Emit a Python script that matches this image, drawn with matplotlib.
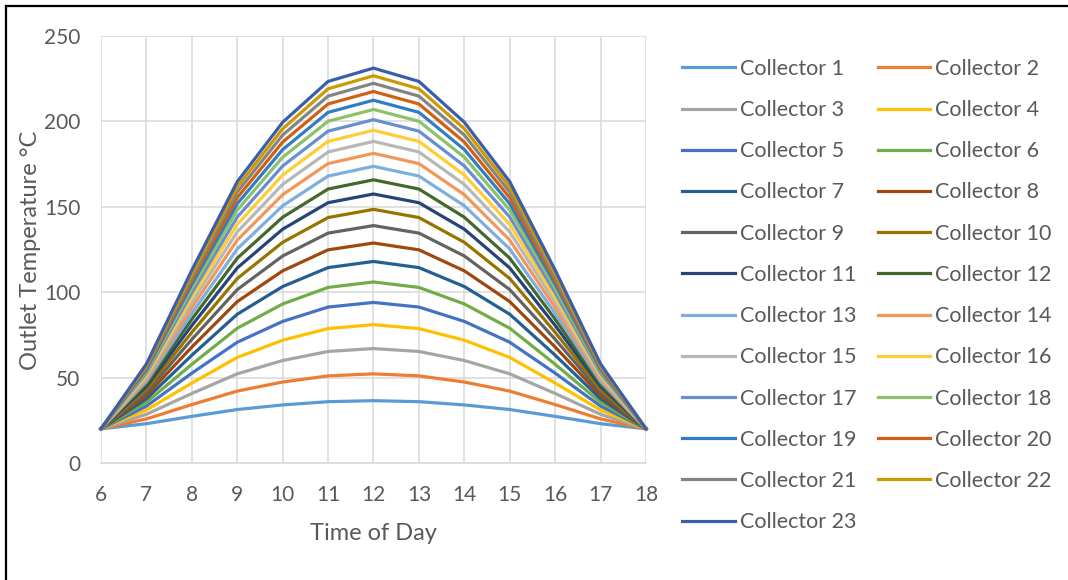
import matplotlib
matplotlib.use("Agg")
import matplotlib.pyplot as plt
from matplotlib.lines import Line2D

plt.rcParams['font.family'] = ['Lato', 'DejaVu Sans']

# Time of day (hours)
hours = [6, 7, 8, 9, 10, 11, 12, 13, 14, 15, 16, 17, 18]

# Outlet temperature (deg C), one list per collector
c1 = [20, 23.0, 27.3, 31.3, 34.0, 35.9, 36.5, 35.9, 34.0, 31.3, 27.3, 23.0, 20]
c2 = [20, 25.8, 34.2, 42.1, 47.4, 51.0, 52.2, 51.0, 47.4, 42.1, 34.2, 25.8, 20]
c3 = [20, 28.5, 40.7, 52.2, 60.0, 65.3, 67.0, 65.3, 60.0, 52.2, 40.7, 28.5, 20]
c4 = [20, 31.0, 46.8, 61.8, 71.9, 78.7, 81.0, 78.7, 71.9, 61.8, 46.8, 31.0, 20]
c5 = [20, 33.3, 52.6, 70.7, 82.9, 91.3, 94.0, 91.3, 82.9, 70.7, 52.6, 33.3, 20]
c6 = [20, 35.5, 57.8, 78.9, 93.1, 102.8, 106.0, 102.8, 93.1, 78.9, 57.8, 35.5, 20]
c7 = [20, 37.6, 63.1, 87.1, 103.3, 114.4, 118.0, 114.4, 103.3, 87.1, 63.1, 37.6, 20]
c8 = [20, 39.6, 67.9, 94.5, 112.5, 124.8, 128.8, 124.8, 112.5, 94.5, 67.9, 39.6, 20]
c9 = [20, 41.4, 72.4, 101.5, 121.2, 134.6, 139.0, 134.6, 121.2, 101.5, 72.4, 41.4, 20]
c10 = [20, 43.1, 76.5, 108.0, 129.2, 143.7, 148.5, 143.7, 129.2, 108.0, 76.5, 43.1, 20]
c11 = [20, 44.8, 80.5, 114.2, 136.9, 152.4, 157.5, 152.4, 136.9, 114.2, 80.5, 44.8, 20]
c12 = [20, 46.2, 84.2, 119.9, 143.9, 160.4, 165.8, 160.4, 143.9, 119.9, 84.2, 46.2, 20]
c13 = [20, 47.7, 87.6, 125.3, 150.6, 168.0, 173.7, 168.0, 150.6, 125.3, 87.6, 47.7, 20]
c14 = [20, 49.0, 91.0, 130.5, 157.1, 175.3, 181.3, 175.3, 157.1, 130.5, 91.0, 49.0, 20]
c15 = [20, 50.3, 94.1, 135.3, 163.1, 182.1, 188.3, 182.1, 163.1, 135.3, 94.1, 50.3, 20]
c16 = [20, 51.5, 96.9, 139.7, 168.6, 188.3, 194.8, 188.3, 168.6, 139.7, 96.9, 51.5, 20]
c17 = [20, 52.6, 99.6, 144.0, 173.9, 194.3, 201.0, 194.3, 173.9, 144.0, 99.6, 52.6, 20]
c18 = [20, 53.7, 102.3, 148.1, 179.0, 200.1, 207.0, 200.1, 179.0, 148.1, 102.3, 53.7, 20]
c19 = [20, 54.6, 104.7, 151.8, 183.5, 205.3, 212.4, 205.3, 183.5, 151.8, 104.7, 54.6, 20]
c20 = [20, 55.6, 106.9, 155.3, 187.9, 210.2, 217.5, 210.2, 187.9, 155.3, 106.9, 55.6, 20]
c21 = [20, 56.4, 109.0, 158.6, 192.0, 214.8, 222.3, 214.8, 192.0, 158.6, 109.0, 56.4, 20]
c22 = [20, 57.2, 110.9, 161.6, 195.7, 219.1, 226.7, 219.1, 195.7, 161.6, 110.9, 57.2, 20]
c23 = [20, 58.0, 112.9, 164.7, 199.5, 223.4, 231.2, 223.4, 199.5, 164.7, 112.9, 58.0, 20]

series = [c1, c2, c3, c4, c5, c6, c7, c8, c9, c10, c11, c12,
          c13, c14, c15, c16, c17, c18, c19, c20, c21, c22, c23]
names = ['Collector %d' % (i + 1) for i in range(len(series))]

# Office palette plus its darker / lighter shades, as Excel cycles them
colors = ['#5B9BD5', '#ED7D31', '#A5A5A5', '#FFC000', '#4472C4', '#70AD47',
          '#255E91', '#9E480E', '#636363', '#997300', '#264478', '#43682B',
          '#7CAFDD', '#F1975A', '#B7B7B7', '#FFCD33', '#698ED0', '#8CC168',
          '#327DC2', '#D26012', '#848484', '#CC9A00', '#3B5EA8']

txt = '#595959'
fs = 15

fig = plt.figure(figsize=(10.68, 5.8), dpi=100)
ax = fig.add_axes([101 / 1068, 1 - 463 / 580, 545 / 1068, 427 / 580])

handles = []
for vals, name, col in zip(series, names, colors):
    h, = ax.plot(hours, vals, color=col, lw=2.3, label=name, clip_on=False,
                 solid_joinstyle='round', zorder=3)
    handles.append(h)

ax.set_xlim(6, 18)
ax.set_ylim(0, 250)
ax.set_xticks(hours)
ax.set_yticks(range(0, 251, 50))
ax.grid(True, color='#D9D9D9', lw=1.1)
ax.set_axisbelow(True)
for s in ['top', 'right', 'left']:
    ax.spines[s].set_visible(False)
ax.spines['bottom'].set_color('#D9D9D9')
ax.spines['bottom'].set_linewidth(1.1)
ax.tick_params(axis='both', length=0, labelsize=fs, labelcolor=txt)
ax.tick_params(axis='x', pad=16)
ax.tick_params(axis='y', pad=15)

fig.text(31 / 1068, 1 - 250 / 580, 'Outlet Temperature °C', rotation=90,
         ha='center', va='center', fontsize=17, color=txt)
fig.text(373 / 1068, 1 - 534 / 580, 'Time of Day', ha='center', va='center',
         fontsize=17, color=txt)

# legend fills row by row in the original: odd collectors left, even right
order = list(range(0, len(series), 2)) + list(range(1, len(series), 2))
fig.legend([handles[i] for i in order], [names[i] for i in order],
           loc='upper left', bbox_to_anchor=(0.6386, 0.8985), ncol=2,
           frameon=False, fontsize=15.5, labelcolor=txt, borderpad=0,
           borderaxespad=0, handlelength=2.45, handletextpad=0.22,
           columnspacing=1.0, labelspacing=0.985)

# outer border of the chart area
fig.add_artist(Line2D([6 / 1068, 1], [1 - 6 / 580, 1 - 6 / 580], color='black', lw=1.6))
fig.add_artist(Line2D([6 / 1068, 6 / 1068], [0, 1 - 6 / 580], color='black', lw=1.6))

fig.savefig('out.png', dpi=100)
